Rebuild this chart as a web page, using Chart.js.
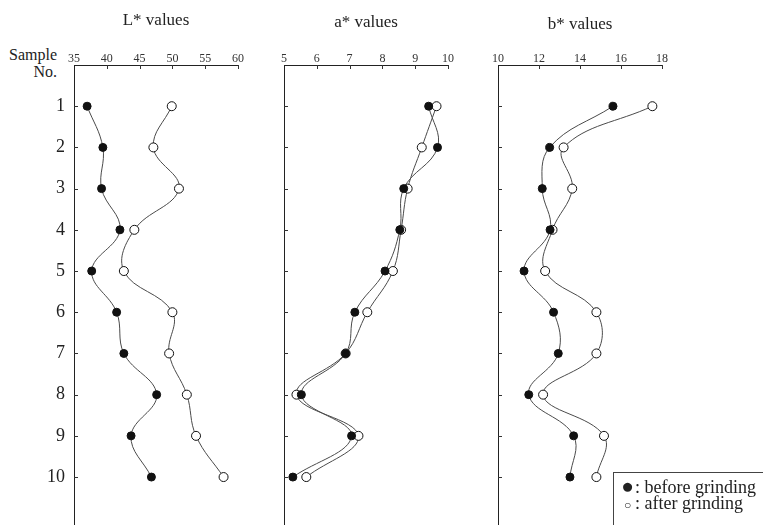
<!DOCTYPE html>
<html>
<head>
<meta charset="utf-8">
<script src="https://cdn.jsdelivr.net/npm/chart.js@4"></script>
<style>
body { margin: 0; background: #fff; width: 763px; height: 525px; overflow: hidden; position: relative; font-family: "Liberation Serif", serif; color: #222; }
canvas { position: absolute; top: 0; }
#sample { position: absolute; left: 0; top: 46px; width: 57px; text-align: right; font-size: 16px; line-height: 17px; }
#key { position: absolute; left: 613px; top: 472px; width: 170px; height: 70px; border: 1px solid #444; font-size: 18px; line-height: 16px; padding: 5px 0 0 6px; box-sizing: border-box; white-space: nowrap; }
#key .dot { font-size: 21px; line-height: 16px; display: inline-block; width: 15px; text-align: center; }
#key .ring { font-size: 12px; line-height: 16px; display: inline-block; width: 15px; text-align: center; }
</style>
</head>
<body>
<div id="sample">Sample<br>No.</div>
<canvas id="lChart" width="250" height="532" style="left:0"></canvas>
<canvas id="aChart" width="188" height="532" style="left:272px"></canvas>
<canvas id="bChart" width="188" height="532" style="left:486px"></canvas>
<div id="key"><span class="dot">●</span>: before grinding<br><span class="ring">○</span>: after grinding</div>
<script>
const samples = [1, 2, 3, 4, 5, 6, 7, 8, 9, 10]
const lTicks = [35, 40, 45, 50, 55, 60]
const aTicks = [5, 6, 7, 8, 9, 10]
const bTicks = [10, 12, 14, 16, 18]

const lBefore = [37.0, 39.4, 39.2, 42.0, 37.7, 41.5, 42.6, 47.6, 43.7, 46.8]
const lAfter = [49.9, 47.1, 51.0, 44.2, 42.6, 50.0, 49.5, 52.2, 53.6, 57.8]
const aBefore = [9.41, 9.68, 8.65, 8.53, 8.08, 7.16, 6.88, 5.53, 7.06, 5.27]
const aAfter = [9.65, 9.20, 8.77, 8.57, 8.32, 7.54, 6.88, 5.38, 7.27, 5.68]
const bBefore = [15.61, 12.52, 12.16, 12.54, 11.27, 12.71, 12.94, 11.50, 13.69, 13.51]
const bAfter = [17.53, 13.20, 13.62, 12.66, 12.30, 14.80, 14.80, 12.20, 15.17, 14.80]

const serif = '"Liberation Serif", "Times New Roman", serif'

// small tick marks pointing into the plot, as in the printed figure
const innerTicks = {
    id: 'innerTicks',
    afterDraw(chart) {
        const { ctx, chartArea, scales: { x, y } } = chart
        ctx.save()
        ctx.strokeStyle = '#333'
        ctx.lineWidth = 1
        ctx.beginPath()
        x.ticks.slice(1).forEach(t => {
            const px = Math.round(x.getPixelForValue(t.value)) + 0.5
            ctx.moveTo(px, chartArea.top)
            ctx.lineTo(px, chartArea.top + 4)
        })
        y.ticks.forEach(t => {
            const py = Math.round(y.getPixelForValue(t.value)) + 0.5
            ctx.moveTo(chartArea.left, py)
            ctx.lineTo(chartArea.left + 4, py)
        })
        ctx.stroke()
        ctx.restore()
    }
}

const makeChart = (id, title, ticks, before, after, showLabels, yWidth, titleTop) => {
    const context = document.querySelector('#' + id).getContext('2d')
    return new Chart(context, {
        type: 'line',
        data: {
            datasets: [{
                label: 'before grinding',
                data: samples.map((s, i) => ({ x: before[i], y: s })),
                borderColor: '#4a4a4a',
                borderWidth: 1,
                pointBackgroundColor: '#111',
                pointBorderColor: '#111',
                pointBorderWidth: 1,
                pointRadius: 4,
                tension: 0.4
            }, {
                label: 'after grinding',
                data: samples.map((s, i) => ({ x: after[i], y: s })),
                borderColor: '#4a4a4a',
                borderWidth: 1,
                pointBackgroundColor: '#fff',
                pointBorderColor: '#111',
                pointBorderWidth: 1,
                pointRadius: 4.5,
                tension: 0.4
            }]
        },
        options: {
            responsive: false,
            animation: false,
            events: [],
            devicePixelRatio: 1,
            layout: { padding: { left: 0, right: 12, top: 0, bottom: 0 } },
            plugins: { legend: { display: false }, tooltip: { enabled: false } },
            scales: {
                x: {
                    type: 'linear',
                    position: 'top',
                    min: ticks[0],
                    max: ticks[ticks.length - 1],
                    afterBuildTicks: s => { s.ticks = ticks.map(v => ({ value: v })) },
                    afterFit: s => { s.height = 65; s.paddingLeft = 0; s.paddingRight = 0 },
                    grid: { display: false, drawTicks: false, tickLength: 0 },
                    border: { display: true, color: '#222', width: 1 },
                    ticks: { font: { family: serif, size: 12 }, color: '#333', padding: -1, maxRotation: 0, autoSkip: false },
                    title: { display: true, text: title, color: '#222', font: { family: serif, size: 17 }, padding: { top: titleTop, bottom: 0 } }
                },
                y: {
                    type: 'linear',
                    reverse: true,
                    min: 0,
                    max: 11.2,
                    afterBuildTicks: s => { s.ticks = samples.map(v => ({ value: v })) },
                    afterFit: s => { s.width = yWidth; s.paddingTop = 0; s.paddingBottom = 0 },
                    grid: { display: false, drawTicks: false, tickLength: 0 },
                    border: { display: true, color: '#222', width: 1 },
                    ticks: { display: showLabels, font: { family: serif, size: 18 }, color: '#222', padding: 9, autoSkip: false }
                }
            }
        },
        plugins: [innerTicks]
    })
}

makeChart('lChart', 'L* values', lTicks, lBefore, lAfter, true, 74, 10)
makeChart('aChart', 'a* values', aTicks, aBefore, aAfter, false, 12, 12)
makeChart('bChart', 'b* values', bTicks, bBefore, bAfter, false, 12, 14)
</script>
</body>
</html>
